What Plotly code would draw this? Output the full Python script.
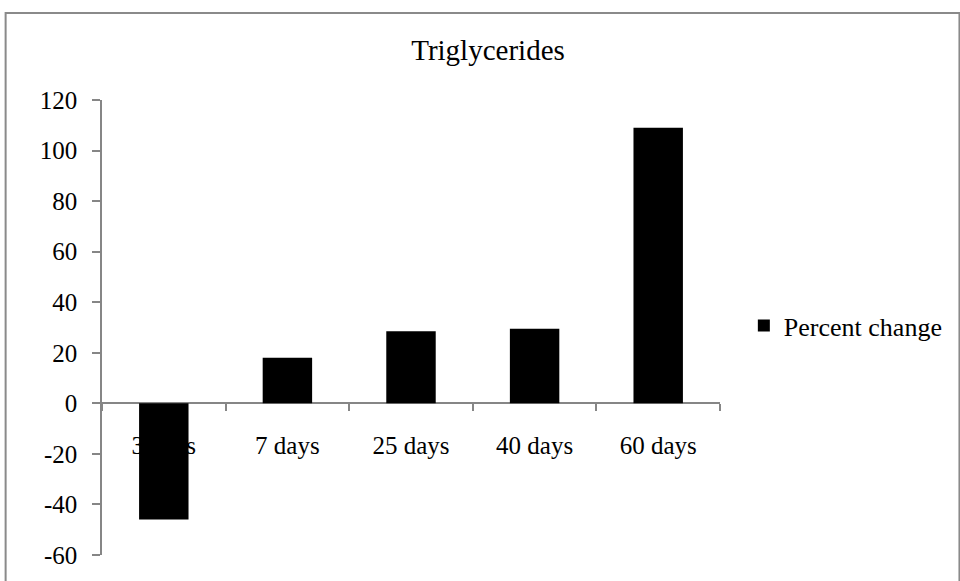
import plotly.graph_objects as go

categories = ["3 days", "7 days", "25 days", "40 days", "60 days"]
percent_change = [-46, 18, 28.5, 29.5, 109]
y_ticks = [-60, -40, -20, 0, 20, 40, 60, 80, 100, 120]

W, H = 960, 581
L, R, T, B = 102, 236, 100, 21
pw, ph = W - L - R, H - T - B

def px_x(x):
    return (x - L) / pw

def px_y(y):
    return (H - B - y) / ph

font = "Liberation Serif, Times New Roman, serif"
axis_col = "#868686"

fig = go.Figure()
fig.add_trace(go.Bar(
    x=categories, y=percent_change, name="Percent change",
    marker=dict(color="black", line=dict(width=0)),
))

fig.update_layout(
    width=W, height=H,
    margin=dict(l=L, r=R, t=T, b=B),
    paper_bgcolor="white", plot_bgcolor="white",
    bargap=0.6,
    showlegend=True,
    font=dict(family=font, size=25, color="black"),
    title=dict(text="Triglycerides", x=488 / W, xanchor="center",
               y=1 - 50 / H, yanchor="middle",
               font=dict(family=font, size=29, color="black")),
    legend=dict(x=px_x(748), xanchor="left", y=px_y(328), yanchor="middle",
                font=dict(family=font, size=26, color="black"),
                bgcolor="rgba(0,0,0,0)"),
    xaxis=dict(
        type="category", anchor="free", position=1 / 3,
        showline=True, linecolor=axis_col, linewidth=1.5,
        ticks="outside", tickson="boundaries", ticklen=7, tickcolor=axis_col, tickwidth=1.5,
        showgrid=False, layer="below traces",
        tickfont=dict(family=font, size=25, color="black"),
        ticklabelstandoff=20,
    ),
    yaxis=dict(
        range=[-60, 120], tickvals=y_ticks, ticktext=[str(v) for v in y_ticks],
        showline=True, linecolor=axis_col, linewidth=1.5,
        ticks="outside", ticklen=8, tickcolor=axis_col, tickwidth=1.5,
        showgrid=False, zeroline=False,
        tickfont=dict(family=font, size=25, color="black"),
        ticklabelstandoff=10,
    ),
    shapes=[dict(type="rect", xref="paper", yref="paper",
                 x0=px_x(5), x1=px_x(965), y0=px_y(12), y1=px_y(590),
                 line=dict(color="#8a8a8a", width=2), fillcolor="rgba(0,0,0,0)",
                 layer="below")],
)

fig.write_html("out.html")
